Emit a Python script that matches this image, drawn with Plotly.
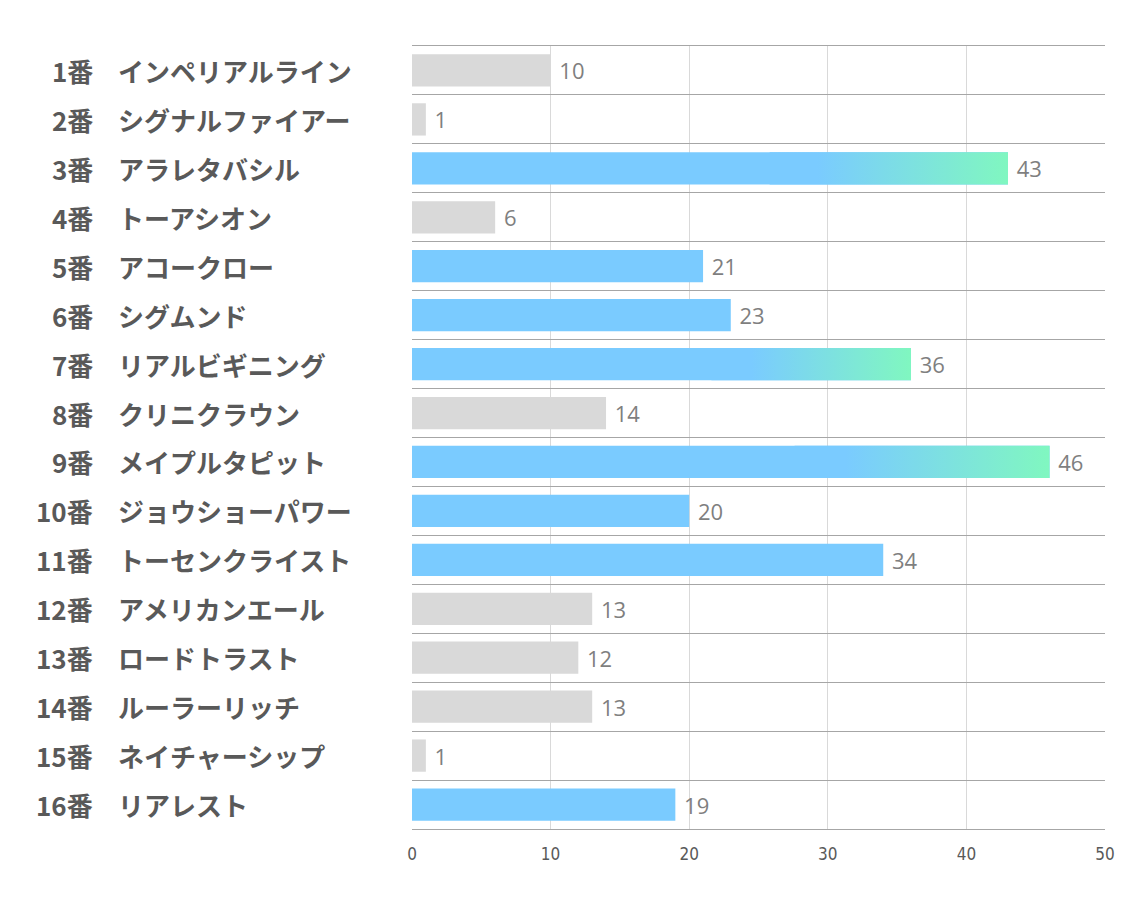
import plotly.graph_objects as go

nums = ['1番', '2番', '3番', '4番', '5番', '6番', '7番', '8番',
        '9番', '10番', '11番', '12番', '13番', '14番', '15番', '16番']
names = ['インペリアルライン', 'シグナルファイアー', 'アラレタバシル', 'トーアシオン',
         'アコークロー', 'シグムンド', 'リアルビギニング', 'クリニクラウン',
         'メイプルタピット', 'ジョウショーパワー', 'トーセンクライスト', 'アメリカンエール',
         'ロードトラスト', 'ルーラーリッチ', 'ネイチャーシップ', 'リアレスト']
values = [10, 1, 43, 6, 21, 23, 36, 14, 46, 20, 34, 13, 12, 13, 1, 19]
kind = ['gray', 'gray', 'grad', 'gray', 'blue', 'blue', 'grad', 'gray',
        'grad', 'blue', 'blue', 'gray', 'gray', 'gray', 'gray', 'blue']

GRAY = '#d9d9d9'
BLUE = '#7acbff'
GREEN = '#80f7c0'
colmap = {'gray': GRAY, 'blue': BLUE, 'grad': BLUE}
ypos = list(range(len(values)))
bw = 0.66

fig = go.Figure()
fig.add_trace(go.Bar(
    x=values, y=ypos, orientation='h', width=bw,
    marker=dict(color=[colmap[k] for k in kind], line=dict(width=0)),
    text=[' ' + str(v) for v in values], textposition='outside',
    textfont=dict(family='Open Sans', size=22, color='#7f7f7f'),
    cliponaxis=False, hoverinfo='skip'))

# gradient ends for the top bars
for i, (v, k) in enumerate(zip(values, kind)):
    if k != 'grad':
        continue
    x0 = v * 0.6
    fig.add_trace(go.Scatter(
        x=[x0, v, v, x0, x0],
        y=[i - bw / 2, i - bw / 2, i + bw / 2, i + bw / 2, i - bw / 2],
        mode='lines', line=dict(width=0), fill='toself',
        fillgradient=dict(type='horizontal', start=v * 0.68, stop=v,
                          colorscale=[[0, BLUE], [1, GREEN]]),
        hoverinfo='skip', showlegend=False))

# left labels
for i in ypos:
    fig.add_annotation(x=-0.4575, y=i, xref='paper', yref='y', text=nums[i],
                       xanchor='right', showarrow=False,
                       font=dict(family='Noto Sans CJK JP', size=26, color='#595959', weight='bold'))
    fig.add_annotation(x=-0.4272, y=i, xref='paper', yref='y', text=names[i],
                       xanchor='left', showarrow=False,
                       font=dict(family='Noto Sans CJK JP', size=26, color='#595959', weight='bold'))

fig.update_layout(
    width=1134, height=907,
    margin=dict(l=404, r=37, t=38, b=86),
    plot_bgcolor='white', paper_bgcolor='white',
    showlegend=False,
    xaxis=dict(range=[0, 50], tickvals=[0, 10, 20, 30, 40, 50],
               showgrid=True, gridcolor='#d9d9d9', gridwidth=1,
               zeroline=False, showline=True, mirror=True,
               linecolor='#a6a6a6', linewidth=1, ticks='',
               ticklabelstandoff=10,
               tickfont=dict(family='DejaVu Sans Condensed', size=17, color='#595959')),
    yaxis=dict(range=[15.5, -0.5], tickvals=[i + 0.5 for i in range(-1, 16)],
               showticklabels=False, showgrid=True, gridcolor='#a6a6a6',
               gridwidth=1, zeroline=False, showline=False, ticks=''),
)

fig.write_html('out.html')
